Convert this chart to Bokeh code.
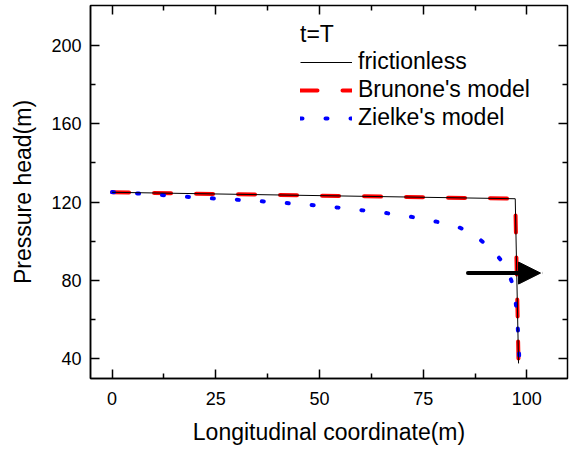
from bokeh.plotting import figure
from bokeh.models import (Range1d, FixedTicker, LinearAxis, Legend, LegendItem,
                          Arrow, NormalHead)
from bokeh.embed import file_html
from bokeh.resources import INLINE

# ---- data ----
x_frictionless = [0, 97.2, 98.0]
y_frictionless = [125.0, 121.7, 37.5]

x_brunone = [0, 97.2, 98.0]
y_brunone = [125.0, 121.7, 37.5]

x_zielke = [0, 6, 12, 18, 24, 30, 36, 42, 48, 54, 60, 66, 72, 78, 84, 88, 92,
            95.2, 97.0, 97.6, 98.0, 98.2]
y_zielke = [125.1, 124.4, 123.6, 122.7, 121.9, 121.2, 120.4, 119.5, 118.5, 117.3,
            115.9, 114.4, 112.5, 110.1, 106.8, 102.1, 95.0, 86.4, 75.3, 62.5, 49.7, 38.0]

x_major_ticks = [0, 25, 50, 75, 100]
x_minor_ticks = [12.5, 37.5, 62.5, 87.5]
y_major_ticks = [40, 80, 120, 160, 200]
y_minor_ticks = [60, 100, 140, 180]

arrow_x = [85.8, 103.3]
arrow_y = [83.7, 83.7]

FONT = "Liberation Sans"

p = figure(width=573, height=450, output_backend="svg", toolbar_location=None,
           x_range=Range1d(-5.2, 109.8), y_range=Range1d(29.8, 220.5),
           min_border_left=90, min_border_right=6, min_border_top=5,
           min_border_bottom=72)
p.background_fill_color = None
p.border_fill_color = "white"
p.grid.visible = False
p.outline_line_color = "black"
p.outline_line_width = 1.5
p.outline_line_alpha = 1.0


def style_axis(ax, ticks, minors):
    ax.ticker = FixedTicker(ticks=ticks, minor_ticks=minors)
    ax.major_tick_in = 9
    ax.major_tick_out = 0
    ax.minor_tick_in = 5
    ax.minor_tick_out = 0
    ax.major_tick_line_color = "black"
    ax.minor_tick_line_color = "black"
    ax.major_tick_line_width = 1.5
    ax.minor_tick_line_width = 1.5
    ax.axis_line_color = "black"
    ax.axis_line_width = 1.5
    ax.major_label_text_font = FONT
    ax.major_label_text_font_size = "18px"
    ax.major_label_text_color = "black"
    ax.axis_label_text_font = FONT
    ax.axis_label_text_font_size = "23px"
    ax.axis_label_text_font_style = "normal"
    ax.axis_label_text_color = "black"


def mirror_axis(major_pos, minor_pos):
    # label-free axis: every tick is a "minor" tick, so no tick labels exist
    ax_major = LinearAxis(ticker=FixedTicker(ticks=[], minor_ticks=major_pos),
                          minor_tick_in=9, minor_tick_out=0,
                          minor_tick_line_color="black", minor_tick_line_width=1.5,
                          major_tick_out=0, major_tick_in=0,
                          major_label_standoff=0, axis_label_standoff=0,
                          axis_line_color=None)
    ax_minor = LinearAxis(ticker=FixedTicker(ticks=[], minor_ticks=minor_pos),
                          minor_tick_in=5, minor_tick_out=0,
                          minor_tick_line_color="black", minor_tick_line_width=1.5,
                          major_tick_out=0, major_tick_in=0,
                          major_label_standoff=0, axis_label_standoff=0,
                          axis_line_color=None)
    return ax_major, ax_minor


xa = p.xaxis[0]
ya = p.yaxis[0]
style_axis(xa, x_major_ticks, x_minor_ticks)
style_axis(ya, y_major_ticks, y_minor_ticks)
xa.axis_label = "Longitudinal coordinate(m)"
ya.axis_label = "Pressure head(m)"
xa.major_label_standoff = 13
ya.major_label_standoff = 9
xa.axis_label_standoff = 11
ya.axis_label_standoff = 12

for ax in mirror_axis(x_major_ticks, x_minor_ticks):
    p.add_layout(ax, "above")
for ax in mirror_axis(y_major_ticks, y_minor_ticks):
    p.add_layout(ax, "right")

r_br = p.line(x_brunone, y_brunone, line_color="#ff0000", line_width=4,
              line_dash="17 25", line_cap="round")
r_zi = p.line(x_zielke, y_zielke, line_color="#0000ff", line_width=4,
              line_dash="2 23", line_cap="round")
r_fr = p.line(x_frictionless, y_frictionless, line_color="black", line_width=1)

p.add_layout(Arrow(x_start=arrow_x[0], y_start=arrow_y[0],
                   x_end=arrow_x[1], y_end=arrow_y[1],
                   line_width=4, line_color="black", line_cap="round",
                   end=NormalHead(size=22, fill_color="black", line_color="black",
                                  line_width=1)))

legend = Legend(items=[LegendItem(label="frictionless", renderers=[r_fr]),
                       LegendItem(label="Brunone's model", renderers=[r_br]),
                       LegendItem(label="Zielke's model", renderers=[r_zi])],
                location=(210, 247), title="t=T",
                title_text_font=FONT, title_text_font_size="23px",
                title_text_font_style="normal", title_text_color="black",
                label_text_font=FONT, label_text_font_size="23px",
                label_text_color="black",
                glyph_width=52, glyph_height=20, label_standoff=6, spacing=1,
                padding=0, margin=0, border_line_color=None,
                background_fill_alpha=0, title_standoff=0)
p.add_layout(legend, "center")

open("out.html", "w").write(file_html(p, INLINE))
